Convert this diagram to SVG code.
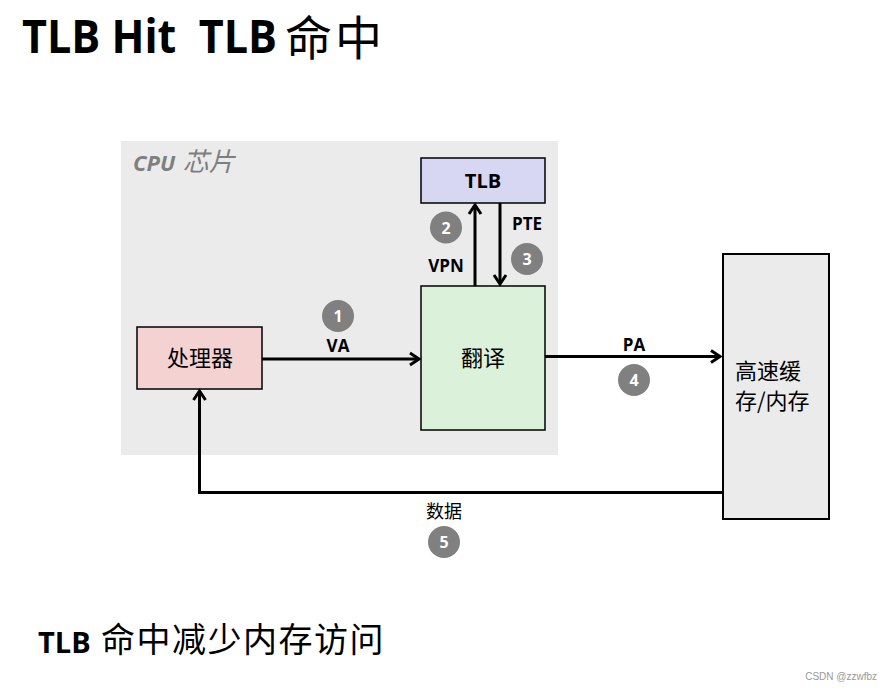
<svg xmlns="http://www.w3.org/2000/svg" width="892" height="690" viewBox="0 0 892 690">
<defs>
<marker id="arr" markerUnits="userSpaceOnUse" markerWidth="16" markerHeight="16" viewBox="0 0 16 16" refX="11" refY="8" orient="auto" overflow="visible">
<path d="M2,2 L11,8 L2,14" fill="none" stroke="#000" stroke-width="3" stroke-linejoin="miter"/>
</marker>
</defs>
<style>
.lat{font-family:"Open Sans","Noto Sans CJK SC",sans-serif;font-weight:bold;fill:#000}
.cjk{font-family:"Noto Sans CJK SC",sans-serif;fill:#000}
.box{stroke:#000;stroke-width:1.5}
.num{fill:#808080}
.numt{font-family:"Open Sans",sans-serif;font-weight:bold;font-size:16px;fill:#fff;text-anchor:middle}
.wire{fill:none;stroke:#000;stroke-width:3}
.mid{text-anchor:middle}
</style>
<rect width="892" height="690" fill="#fff"/>
<g id="title">
<text x="22" y="53" class="lat" font-size="46" textLength="255" lengthAdjust="spacingAndGlyphs" xml:space="preserve">TLB Hit  TLB</text>
<text x="285" y="54.5" class="cjk" font-size="47" letter-spacing="3">命中</text>
</g>
<g id="cpu-chip">
<rect x="121" y="141" width="437" height="314" fill="#ebebeb"/>
<text x="133" y="171" font-family="'Open Sans','Noto Sans CJK SC',sans-serif" font-weight="bold" font-style="italic" font-size="22" fill="#7f7f7f">CPU <tspan font-weight="normal" font-size="26" dx="2">芯片</tspan></text>
</g>
<g id="tlb">
<rect x="421" y="158" width="124" height="45" fill="#d7d7f4" class="box"/>
<text x="483" y="188" class="lat mid" font-size="20">TLB</text>
</g>
<g id="processor">
<rect x="137" y="327" width="125" height="62" fill="#f5d2d2" class="box"/>
<text x="200" y="366" class="cjk mid" font-size="22">处理器</text>
</g>
<g id="translate">
<rect x="421" y="286" width="124" height="144" fill="#dcf1da" class="box"/>
<text x="483" y="366" class="cjk mid" font-size="22">翻译</text>
</g>
<g id="memory">
<rect x="723" y="254" width="106" height="265" fill="#ebebeb" stroke="#000" stroke-width="2"/>
<text x="735" y="379" class="cjk" font-size="22">高速缓</text>
<text x="735" y="409" class="cjk" font-size="22">存/内存</text>
</g>
<g id="connectors">
<path d="M262,359 H419" class="wire" marker-end="url(#arr)"/>
<path d="M475,286 V205" class="wire" marker-end="url(#arr)"/>
<path d="M500,203 V284" class="wire" marker-end="url(#arr)"/>
<path d="M545,356.5 H720" class="wire" marker-end="url(#arr)"/>
<path d="M722,492.5 H199.5 V391" class="wire" marker-end="url(#arr)"/>
</g>
<g id="labels">
<text x="338" y="352" class="lat mid" font-size="17">VA</text>
<text x="446" y="272" class="lat mid" font-size="17">VPN</text>
<text x="527" y="230" class="lat mid" font-size="17">PTE</text>
<text x="634" y="351" class="lat mid" font-size="17">PA</text>
<text x="444" y="518" class="cjk mid" font-size="18">数据</text>
</g>
<g id="steps">
<circle cx="338" cy="316" r="16" class="num"/><text x="338" y="322" class="numt">1</text>
<circle cx="446" cy="227.5" r="16" class="num"/><text x="446" y="233.5" class="numt">2</text>
<circle cx="527" cy="259" r="16" class="num"/><text x="527" y="265" class="numt">3</text>
<circle cx="634" cy="380" r="16" class="num"/><text x="634" y="386" class="numt">4</text>
<circle cx="444" cy="542" r="16" class="num"/><text x="444" y="548" class="numt">5</text>
</g>
<g id="footer">
<text x="38" y="653" class="lat" font-size="29">TLB</text>
<text x="101" y="652" class="cjk" font-size="34" letter-spacing="1.5">命中减少内存访问</text>
</g>
<text x="877" y="680" font-family="'Liberation Sans',sans-serif" font-size="10" fill="#999" text-anchor="end">CSDN @zzwfbz</text>
</svg>
